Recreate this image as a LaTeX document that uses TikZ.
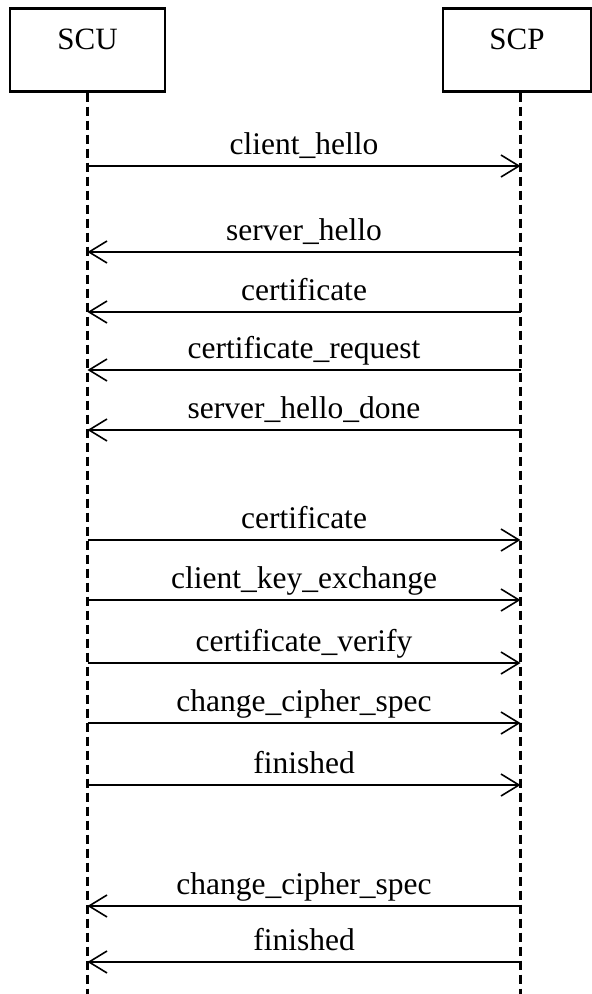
\documentclass[tikz,border=0pt]{standalone}
\usepackage{fontspec}
\setmainfont{Liberation Serif}
\usetikzlibrary{positioning, arrows.meta}

\begin{document}
\begin{tikzpicture}[
  x=1pt, y=-1pt,
  actor/.style={rectangle, draw, line width=2.5pt, minimum width=155pt, inner ysep=0pt,
    text height=41pt, text depth=42pt, anchor=north, font=\fontsize{31}{37}\selectfont},
  life/.style={line width=2.2pt, dash pattern=on 9pt off 5pt},
  msg/.style={-{Straight Barb[length=18pt, width=22pt]}, line width=1.6pt},
  lbl/.style={midway, anchor=base, yshift=12pt, inner sep=0pt, font=\fontsize{31.5}{37}\selectfont}
]
\useasboundingbox (0,0) rectangle (592,994);
\node[actor] (scu) at (87.5,7) {SCU};
\node[actor, minimum width=148pt] (scp) at (517,7) {SCP};
\coordinate (scptop) at ([xshift=3.5pt]scp.south);
\coordinate (scuend) at (scu.south |- 0,994);
\coordinate (scpend) at (scptop |- 0,994);

% lifelines
\draw[life] (scu.south) -- (scuend);
\draw[life] (scptop) -- (scpend);

% handshake
\draw[msg] (scu.south |- 0,166) -- node[lbl]{client\_hello} (scptop |- 0,166);
\draw[msg] (scptop |- 0,252) -- node[lbl]{server\_hello} (scu.south |- 0,252);
\draw[msg] (scptop |- 0,312) -- node[lbl]{certificate} (scu.south |- 0,312);
\draw[msg] (scptop |- 0,370) -- node[lbl]{certificate\_request} (scu.south |- 0,370);
\draw[msg] (scptop |- 0,430) -- node[lbl]{server\_hello\_done} (scu.south |- 0,430);
\draw[msg] (scu.south |- 0,540) -- node[lbl]{certificate} (scptop |- 0,540);
\draw[msg] (scu.south |- 0,600) -- node[lbl]{client\_key\_exchange} (scptop |- 0,600);
\draw[msg] (scu.south |- 0,663) -- node[lbl]{certificate\_verify} (scptop |- 0,663);
\draw[msg] (scu.south |- 0,723) -- node[lbl]{change\_cipher\_spec} (scptop |- 0,723);
\draw[msg] (scu.south |- 0,785) -- node[lbl]{finished} (scptop |- 0,785);
\draw[msg] (scptop |- 0,906) -- node[lbl]{change\_cipher\_spec} (scu.south |- 0,906);
\draw[msg] (scptop |- 0,962) -- node[lbl]{finished} (scu.south |- 0,962);
\end{tikzpicture}
\end{document}
